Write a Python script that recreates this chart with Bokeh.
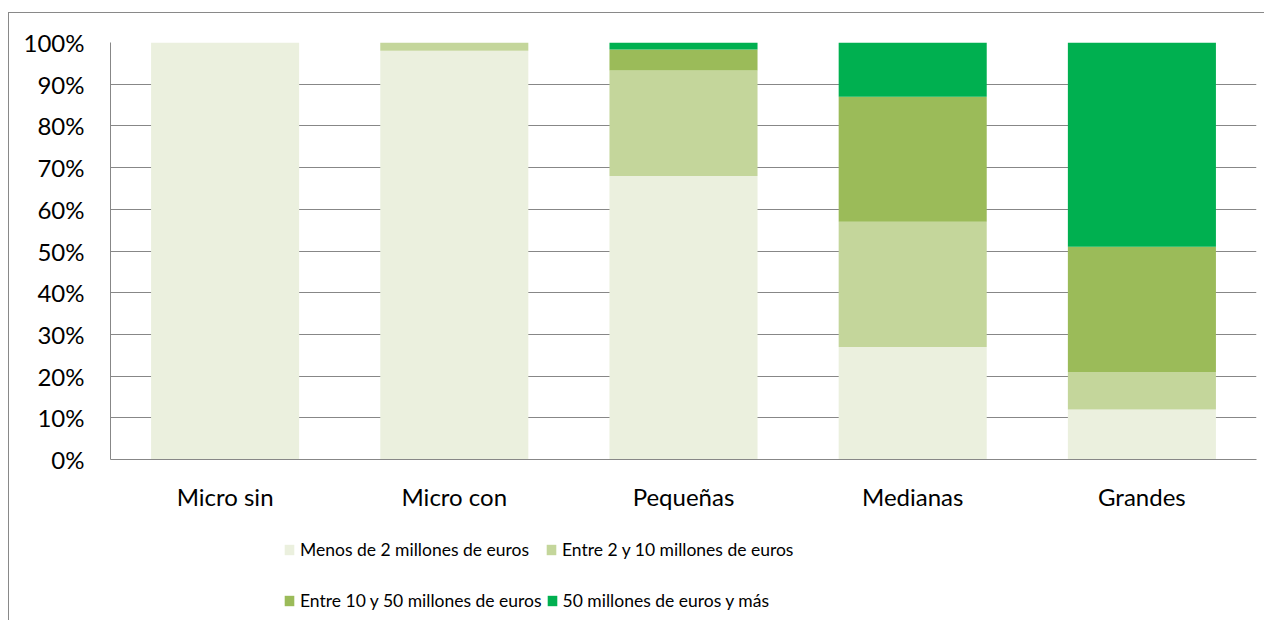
from bokeh.plotting import figure
from bokeh.layouts import column
from bokeh.models import (ColumnDataSource, FactorRange, Range1d, FixedTicker,
                          PrintfTickFormatter, Legend, LegendItem)
from bokeh.embed import file_html
from bokeh.resources import INLINE

categories = ["Micro sin", "Micro con", "Pequeñas", "Medianas", "Grandes"]
series_names = ["Menos de 2 millones de euros", "Entre 2 y 10 millones de euros",
                "Entre 10 y 50 millones de euros", "50 millones de euros y más"]
menos_2 = [100, 98, 68, 27, 12]
entre_2_10 = [0, 2, 25.3, 30, 9]
entre_10_50 = [0, 0, 5, 30, 30]
mas_50 = [0, 0, 1.7, 13, 49]
colors = ["#EBF0DE", "#C4D69B", "#9BBB59", "#00B050"]
y_ticks = [0, 10, 20, 30, 40, 50, 60, 70, 80, 90, 100]

FONT = "Lato"
FS = "24px"
LEG_FS = "17.5px"

keys = ["s0", "s1", "s2", "s3"]
src = ColumnDataSource(dict(cat=categories, s0=menos_2, s1=entre_2_10, s2=entre_10_50, s3=mas_50))

W, H1, H2 = 1255, 520, 87
p1 = figure(x_range=FactorRange(factors=categories, range_padding=0),
            y_range=Range1d(0, 100), width=W, height=H1,
            output_backend="svg", toolbar_location=None,
            min_border_left=101, min_border_top=29, min_border_right=8,
            min_border_bottom=H1 - 446)

p1.vbar_stack(keys, x="cat", width=0.646, source=src, color=colors, line_color=None)

p1.outline_line_color = None
p1.background_fill_color = "white"
p1.border_fill_color = "white"

p1.xgrid.grid_line_color = None
p1.ygrid.grid_line_color = "#878787"
p1.ygrid.grid_line_width = 1
p1.ygrid.ticker = FixedTicker(ticks=y_ticks)

p1.yaxis.ticker = FixedTicker(ticks=y_ticks)
p1.yaxis.formatter = PrintfTickFormatter(format="%d%%")
p1.yaxis.minor_tick_line_color = None
p1.yaxis.major_tick_out = 0
p1.yaxis.major_tick_in = 0
p1.yaxis.axis_line_color = "#878787"
p1.yaxis.major_label_standoff = 26

p1.xaxis.major_tick_out = 0
p1.xaxis.major_tick_in = 0
p1.xaxis.axis_line_color = "#878787"
p1.xaxis.major_label_standoff = 22

for ax in (p1.xaxis, p1.yaxis):
    ax.major_label_text_font = FONT
    ax.major_label_text_font_size = FS
    ax.major_label_text_color = "#000000"

# legend panel (same stacked bars, hidden; only their legend entries are shown)
p2 = figure(x_range=FactorRange(factors=categories, range_padding=0),
            y_range=Range1d(0, 100), width=W, height=H2,
            output_backend="svg", toolbar_location=None,
            min_border_left=0, min_border_right=0, min_border_top=0, min_border_bottom=0)
p2.axis.visible = False
p2.grid.visible = False
p2.outline_line_color = None
p2.background_fill_color = "white"
p2.border_fill_color = "white"
leg_renderers = p2.vbar_stack(keys, x="cat", width=0.646, source=src, color=colors, line_color=None)
for r in leg_renderers:
    r.visible = False

def make_legend(idx, loc):
    items = [LegendItem(label=series_names[i], renderers=[leg_renderers[i]]) for i in idx]
    return Legend(items=items, orientation="horizontal", location=loc,
                  glyph_width=12, glyph_height=13, label_text_font=FONT,
                  label_text_font_size=LEG_FS, label_text_color="#000000",
                  label_width=241, spacing=4, padding=0, margin=0, label_standoff=5,
                  inactive_fill_alpha=0, click_policy="none",
                  background_fill_alpha=0, border_line_color=None)

p2.add_layout(make_legend([0, 1], (173, 60)), "center")
p2.add_layout(make_legend([2, 3], (173, 9)), "center")

p = column(p1, p2, spacing=0)
p.styles = {"margin-top": "12px", "margin-left": "8px",
            "border-top": "1px solid #898989", "border-left": "1px solid #898989"}

open("out.html", "w").write(file_html(p, INLINE))
